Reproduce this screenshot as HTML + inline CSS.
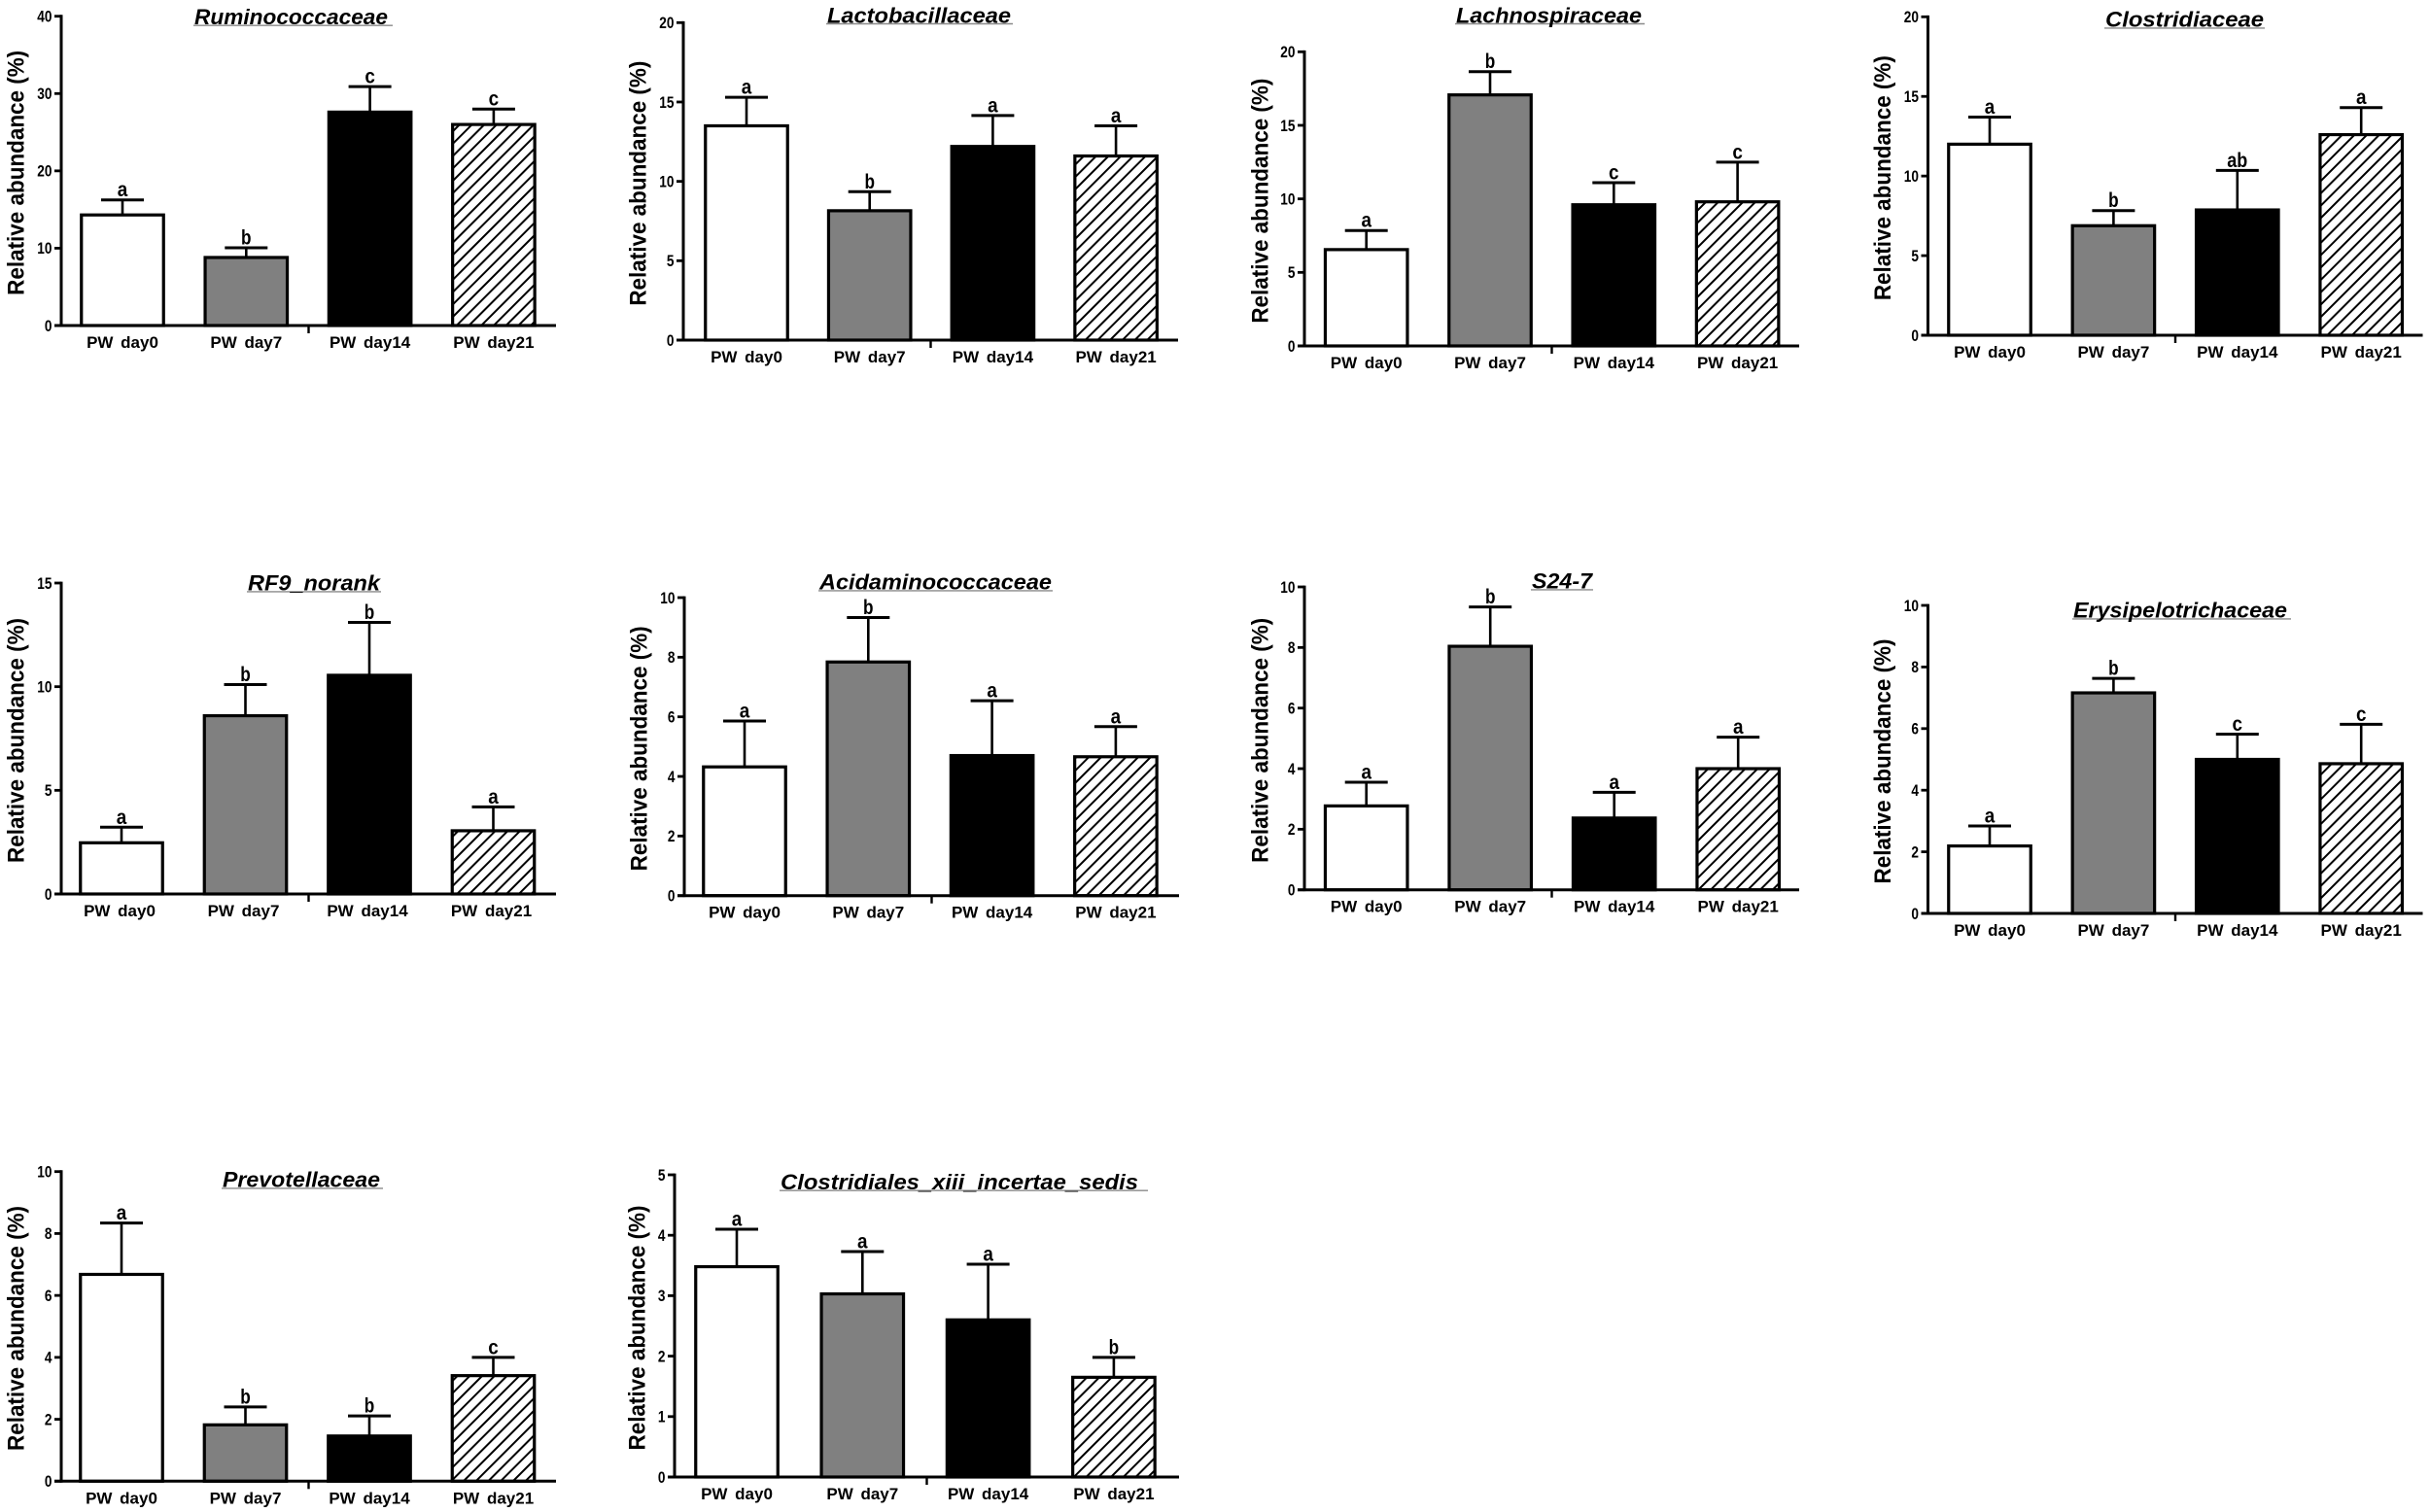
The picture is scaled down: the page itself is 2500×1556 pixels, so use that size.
<!DOCTYPE html>
<html lang="en">
<head>
<meta charset="utf-8">
<title>Relative abundance by family across post-weaning days</title>
<style>
  html, body { margin: 0; padding: 0; background: #fff; }
  #figure { display: block; width: 2500px; height: 1556px; background: #fff; }
  text { font-family: "Liberation Sans", Arial, sans-serif; fill: #000; }
  .tick { font-size: 17px; font-weight: bold; }
  .cat { font-size: 17px; font-weight: bold; }
  .ytitle { font-size: 24px; font-weight: bold; }
  .ptitle { font-size: 22px; font-weight: bold; font-style: italic; }
  .sig { font-size: 21px; font-weight: bold; }
</style>
</head>
<body>
<svg id="figure" xmlns="http://www.w3.org/2000/svg" width="2500" height="1556" viewBox="0 0 2500 1556">
  <defs>
    <pattern id="hatch" patternUnits="userSpaceOnUse" width="9" height="9" patternTransform="rotate(45)">
      <rect width="9" height="9" fill="#fff"></rect>
      <line x1="2" y1="0" x2="2" y2="9" stroke="#000" stroke-width="2"></line>
    </pattern>
  </defs>
</svg>
<script>
// ---------- chart data ----------
const categories = ["PW day0", "PW day7", "PW day14", "PW day21"];
const yAxisTitle = "Relative abundance (%)";
const panelTitles = [
  "Ruminococcaceae", "Lactobacillaceae", "Lachnospiraceae", "Clostridiaceae",
  "RF9_norank", "Acidaminococcaceae", "S24-7", "Erysipelotrichaceae",
  "Prevotellaceae", "Clostridiales_xiii_incertae_sedis"
];
const tickLabels = [
  [0, 10, 20, 30, 40],
  [0, 5, 10, 15, 20],
  [0, 5, 10, 15, 20],
  [0, 5, 10, 15, 20],
  [0, 5, 10, 15],
  [0, 2, 4, 6, 8, 10],
  [0, 2, 4, 6, 8, 10],
  [0, 2, 4, 6, 8, 10],
  [0, 2, 4, 6, 8, 10],
  [0, 1, 2, 3, 4, 5]
];
const meanValues = [
  [14.3, 8.8, 27.6, 26.0],
  [13.5, 8.15, 12.2, 11.6],
  [6.55, 17.07, 9.6, 9.8],
  [12.0, 6.88, 7.87, 12.6],
  [2.47, 8.6, 10.55, 3.05],
  [4.32, 7.84, 4.7, 4.66],
  [2.77, 8.04, 2.37, 4.0],
  [2.19, 7.16, 5.0, 4.86],
  [6.68, 1.82, 1.46, 3.41],
  [3.48, 3.03, 2.6, 1.65]
];
const errorTopValues = [
  [16.25, 10.05, 30.9, 28.0],
  [15.3, 9.35, 14.15, 13.5],
  [7.85, 18.65, 11.1, 12.5],
  [13.7, 7.83, 10.35, 14.3],
  [3.22, 10.1, 13.1, 4.2],
  [5.86, 9.33, 6.54, 5.67],
  [3.55, 9.34, 3.22, 5.04],
  [2.84, 7.63, 5.82, 6.14],
  [8.34, 2.4, 2.11, 4.0],
  [4.1, 3.73, 3.52, 1.98]
];
const significanceLetters = [
  ["a", "b", "c", "c"],
  ["a", "b", "a", "a"],
  ["a", "b", "c", "c"],
  ["a", "b", "ab", "a"],
  ["a", "b", "b", "a"],
  ["a", "b", "a", "a"],
  ["a", "b", "a", "a"],
  ["a", "b", "c", "c"],
  ["a", "b", "b", "c"],
  ["a", "a", "a", "b"]
];

// ---------- page layout of each panel (not data) ----------
const panelLayouts = [
  { left: 63,     top: 16.7,   bottom: 335,    width: 509, start: 63,   pitch: 127.3, yTitleGap: 38.4, tx0: 200,  tx1: 399,  ulEnd: 404,  tb: 25 },
  { left: 703,    top: 23.3,   bottom: 350,    width: 509, start: 65,   pitch: 126.7, yTitleGap: 38.4, tx0: 851,  tx1: 1040, ulEnd: 1042, tb: 23.3 },
  { left: 1342,   top: 53.3,   bottom: 356,    width: 509, start: 63.7, pitch: 127.3, yTitleGap: 37.4, tx0: 1498, tx1: 1689, ulEnd: 1692, tb: 23.3 },
  { left: 1983.5, top: 17.3,   bottom: 345,    width: 509, start: 63.5, pitch: 127.4, yTitleGap: 38.4, tx0: 2166, tx1: 2329, ulEnd: 2330, tb: 27.7 },
  { left: 63,     top: 600,    bottom: 920,    width: 509, start: 62,   pitch: 127.5, yTitleGap: 38.4, tx0: 255,  tx1: 391,  ulEnd: 392,  tb: 607.7 },
  { left: 704,    top: 615,    bottom: 921.7,  width: 509, start: 62,   pitch: 127.3, yTitleGap: 38.4, tx0: 843,  tx1: 1082, ulEnd: 1083, tb: 606.7 },
  { left: 1342,   top: 604,    bottom: 915.7,  width: 509, start: 63.7, pitch: 127.5, yTitleGap: 37.4, tx0: 1576, tx1: 1638, ulEnd: 1639, tb: 605.7 },
  { left: 1983.5, top: 623,    bottom: 940,    width: 509, start: 63.5, pitch: 127.4, yTitleGap: 38.4, tx0: 2133, tx1: 2353, ulEnd: 2357, tb: 635.7 },
  { left: 63,     top: 1205.7, bottom: 1524.3, width: 509, start: 62,   pitch: 127.5, yTitleGap: 38.4, tx0: 229,  tx1: 391,  ulEnd: 394,  tb: 1221.7 },
  { left: 694,    top: 1209,   bottom: 1520,   width: 519, start: 64,   pitch: 129.3, yTitleGap: 30.5, tx0: 803,  tx1: 1171, ulEnd: 1181, tb: 1224 }
];
const SVG_NS = "http://www.w3.org/2000/svg";
const svg = document.getElementById("figure");
const barWidth = 84.5;
const capHalf = 22;
const fills = ["#fff", "#808080", "#000", "url(#hatch)"];
const fillNames = ["white", "gray", "black", "hatched"];

function make(tag, attrs, parent, text) {
  const node = document.createElementNS(SVG_NS, tag);
  for (const k in attrs) node.setAttribute(k, attrs[k]);
  if (text !== undefined) node.textContent = text;
  parent.appendChild(node);
  return node;
}
function yScaleFor(layout, maxValue) {
  return function (v) { return layout.bottom - (v / maxValue) * (layout.bottom - layout.top); };
}
function xScaleFor(layout) {
  return function (i) { return layout.left + layout.start + layout.pitch * i; };
}
function slug(s) { return s.toLowerCase().replace(/[^a-z0-9]+/g, "-"); }

function drawPanel(p) {
  const layout = panelLayouts[p];
  const ticks = tickLabels[p];
  const y = yScaleFor(layout, ticks[ticks.length - 1]);
  const x = xScaleFor(layout);
  const key = slug(panelTitles[p]);

  const g = make("g", {}, svg);
  
  

  // grey rule sits behind the title so underscores stay visible
  const rule = make("line", { x1: layout.tx0 - 1, x2: layout.ulEnd, y1: layout.tb + 1.2, y2: layout.tb + 1.2, stroke: "#8a8a8a", "stroke-width": 1.4 }, g);
  
  
  const title = make("text", { class: "ptitle", x: layout.tx0, y: layout.tb, textLength: layout.tx1 - layout.tx0, lengthAdjust: "spacingAndGlyphs" }, g, panelTitles[p]);
  
  

  // y axis title
  const midY = (layout.top + layout.bottom) / 2 + 2;
  const bx = layout.left - layout.yTitleGap;
  const yt = make("text", { class: "ytitle", x: bx, y: midY, "text-anchor": "middle", transform: "rotate(-90 " + bx + " " + midY + ")", textLength: 252, lengthAdjust: "spacingAndGlyphs" }, g, yAxisTitle);
  
  

  // bars, error bars, letters
  categories.forEach(function (cat, i) {
    const cx = x(i);
    const top = y(meanValues[p][i]);
    const errTop = y(errorTopValues[p][i]);

    const stem = make("line", { x1: cx, x2: cx, y1: top, y2: errTop, stroke: "#000", "stroke-width": 2.6 }, g);
    
    
    const cap = make("line", { x1: cx - capHalf, x2: cx + capHalf, y1: errTop, y2: errTop, stroke: "#000", "stroke-width": 3 }, g);
    
    

    const bar = make("rect", { x: cx - barWidth / 2, y: top, width: barWidth, height: layout.bottom - top, fill: fills[i], stroke: "#000", "stroke-width": 3.2 }, g);
    
    

    const letter = significanceLetters[p][i];
    const sig = make("text", { class: "sig", x: cx, y: errTop - 3.5, "text-anchor": "middle", textLength: 10.5 * letter.length, lengthAdjust: "spacingAndGlyphs" }, g, letter);
    
    

    const label = make("text", { class: "cat", x: cx - (p === 4 ? 2 : 0), y: layout.bottom + 23, "text-anchor": "middle", "word-spacing": "3px" }, g, cat);
    
    
  });

  // axes
  const yAxis = make("line", { x1: layout.left, x2: layout.left, y1: layout.top - 1.4, y2: layout.bottom + 1.4, stroke: "#000", "stroke-width": 3 }, g);
  
  
  const xAxis = make("line", { x1: layout.left - 7, x2: layout.left + layout.width, y1: layout.bottom, y2: layout.bottom, stroke: "#000", "stroke-width": 3 }, g);
  
  
  const midTick = make("line", { x1: layout.left + layout.width / 2, x2: layout.left + layout.width / 2, y1: layout.bottom, y2: layout.bottom + 8, stroke: "#000", "stroke-width": 2.4 }, g);
  
  

  ticks.forEach(function (t) {
    const ty = y(t);
    const mark = make("line", { x1: layout.left - 7, x2: layout.left, y1: ty, y2: ty, stroke: "#000", "stroke-width": 2.8 }, g);
    
    
    const str = String(t);
    const lab = make("text", { class: "tick", x: layout.left - 9.5, y: ty + 5.8, "text-anchor": "end", textLength: 7.6 * str.length, lengthAdjust: "spacingAndGlyphs" }, g, str);
    
    
  });
}

panelTitles.forEach(function (_, p) { drawPanel(p); });
</script>
</body>
</html>
